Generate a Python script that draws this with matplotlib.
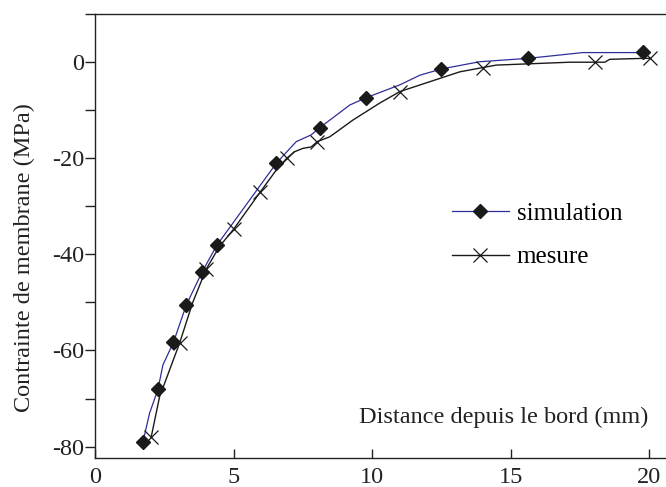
import numpy as np
import matplotlib
matplotlib.use("Agg")
import matplotlib.pyplot as plt
from matplotlib.lines import Line2D
from matplotlib.ticker import MultipleLocator, FuncFormatter

plt.rcParams['font.family'] = ['Liberation Serif', 'DejaVu Serif']
plt.rcParams['axes.unicode_minus'] = False

# simulation: marker points
sim_x = [1.73, 2.27, 2.83, 3.29, 3.87, 4.40, 6.54, 8.11, 9.77, 12.50, 15.62, 19.78]
sim_y = [-79.0, -68.1, -58.3, -50.6, -43.6, -38.1, -21.1, -13.7, -7.5, -1.5, 0.7, 2.1]
# simulation: extra line vertices read between markers
sim_line_x = [1.97, 2.45, 7.26, 7.80, 9.19, 11.00, 11.72, 13.88, 17.60, 19.66]
sim_line_y = [-73.0, -63.0, -16.6, -15.2, -9.0, -4.8, -2.8, 0.0, 1.9, 1.9]

# mesure: marker points
mes_x = [2.03, 3.05, 4.01, 5.00, 5.97, 6.91, 8.02, 11.00, 14.00, 18.03, 20.02]
mes_y = [-77.9, -58.5, -43.1, -34.8, -27.0, -20.1, -16.6, -6.2, -1.2, -0.1, 0.7]
# mesure: extra line vertices
mes_line_x = [2.33, 3.52, 4.49, 6.54, 7.20, 7.50, 7.80, 8.47, 9.31, 10.27, 13.16, 14.48, 17.13, 18.39, 18.57, 19.78]
mes_line_y = [-69.6, -50.1, -38.4, -22.5, -18.7, -18.0, -17.7, -15.6, -12.1, -8.6, -2.1, -0.7, -0.1, -0.1, 0.5, 0.7]

sim_color = '#2e2e9a'
mes_color = '#1a1a1a'


def merged(x, y, lx, ly):
    px = np.array(x + lx)
    py = np.array(y + ly)
    order = np.argsort(px)
    return px[order], py[order]


fig = plt.figure(figsize=(6.66, 4.87), dpi=100)
W, H = 666, 487
left, right, top, bottom = 95, 666, 13.6, 458.3
ax = fig.add_axes([left / W, 1 - bottom / H, (right - left) / W, (bottom - top) / H])

lx, ly = merged(sim_x, sim_y, sim_line_x, sim_line_y)
ax.plot(lx, ly, color=sim_color, lw=0.9, zorder=2)
ax.plot(sim_x, sim_y, ls='none', marker='D', ms=6.8, color=mes_color, zorder=4)

lx, ly = merged(mes_x, mes_y, mes_line_x, mes_line_y)
ax.plot(lx, ly, color=mes_color, lw=1.0, zorder=3)
ax.plot(mes_x, mes_y, ls='none', marker='x', ms=9.5, mew=0.9, color=mes_color, zorder=3)

ax.set_xlim(0, 20.6)
ax.set_ylim(-82.4, 10)

ax.spines['right'].set_visible(False)
for s in ['left', 'bottom', 'top']:
    ax.spines[s].set_linewidth(1.0)
    ax.spines[s].set_color('#222222')

ax.xaxis.set_major_locator(MultipleLocator(5))
ax.yaxis.set_major_locator(MultipleLocator(20))
ax.yaxis.set_minor_locator(MultipleLocator(10))
ax.yaxis.set_major_formatter(FuncFormatter(lambda v, p: '%d' % v))
ax.tick_params(axis='x', direction='in', length=6.5, width=1.0, pad=6.5,
               labelsize=17.5, colors='#222222', top=False)
ax.tick_params(axis='y', which='both', direction='out', length=7.2, width=1.0,
               pad=0.8, labelsize=17.5, colors='#222222')
ax.tick_params(axis='x', which='minor', bottom=False)

fig.text(648.3 / W, 1 - 423.3 / H, 'Distance depuis le bord (mm)', ha='right',
         va='baseline', fontsize=17.5, color='#222222')
fig.text(24 / W, 1 - 257.4 / H, 'Contrainte de membrane (MPa)', rotation=90,
         ha='center', va='center', fontsize=17.5, color='#222222')

handles = [
    Line2D([], [], color=sim_color, lw=0.9, marker='D', ms=6.8,
           markerfacecolor=mes_color, markeredgecolor=mes_color),
    Line2D([], [], color=mes_color, lw=1.0, marker='x', ms=9.5, mew=0.9),
]
ax.legend(handles, ['simulation', 'mesure'], loc='upper left',
          bbox_to_anchor=(451.7 / W, 1 - 202 / H), bbox_transform=fig.transFigure,
          frameon=False, borderpad=0, borderaxespad=0, handlelength=2.3,
          handletextpad=0.3, labelspacing=0.85, numpoints=1, fontsize=18)

fig.savefig('out.png', dpi=100)
